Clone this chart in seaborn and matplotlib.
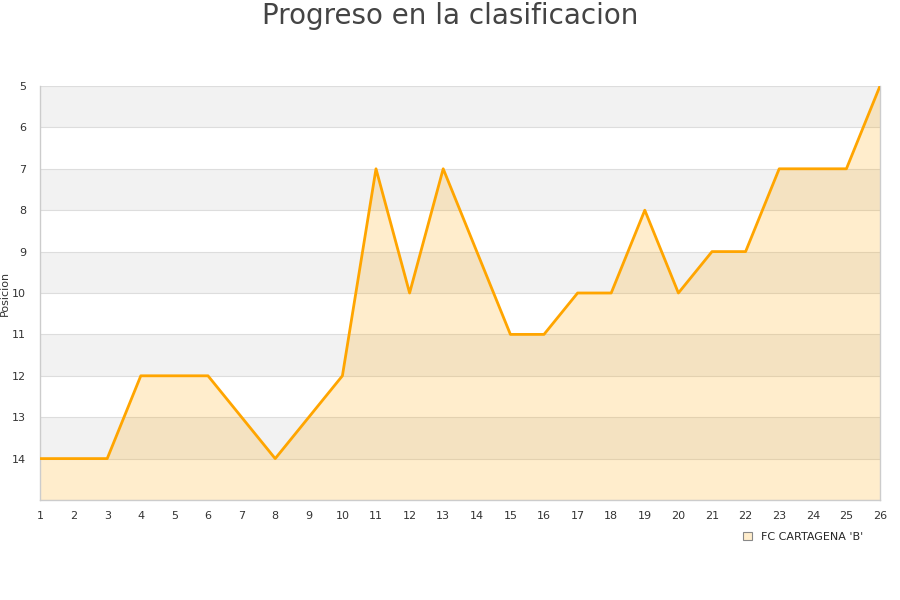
import numpy as np
import pandas as pd
import seaborn as sns
import matplotlib.pyplot as plt
from matplotlib.patches import Patch

jornadas = list(range(1, 27))
posiciones = [14, 14, 14, 12, 12, 12, 13, 14, 13, 12, 7, 10, 7, 9, 11, 11, 10, 10, 8, 10, 9, 9, 7, 7, 7, 5]
equipo = "FC CARTAGENA 'B'"

df = pd.DataFrame({"Jornada": jornadas, "Posicion": posiciones})

sns.set_style("white")
plt.rcParams['font.family'] = ['DejaVu Sans']

fig = plt.figure(figsize=(9, 6), dpi=100)
ax = fig.add_axes([40 / 900, 100 / 600, 840 / 900, 414 / 600])

# bandas alternas
for y in range(5, 15):
    if (y - 5) % 2 == 0:
        ax.axhspan(y, y + 1, color='#f2f2f2', zorder=0, lw=0)
for y in range(5, 16):
    ax.axhline(y, color='#dddddd', lw=0.8, zorder=1)

ax.fill_between(df["Jornada"], df["Posicion"], 15, color='#ffa500', alpha=0.2, lw=0, zorder=2)
sns.lineplot(data=df, x="Jornada", y="Posicion", color='#ffa500', linewidth=2, ax=ax, zorder=3)

ax.set_xlim(1, 26)
ax.set_ylim(15, 5)
ax.set_xticks(jornadas)
ax.set_yticks(range(5, 15))
ax.tick_params(axis='both', length=0, labelsize=8, labelcolor='#333333')
ax.tick_params(axis='x', pad=8)
ax.tick_params(axis='y', pad=10)
ax.set_xlabel("")
ax.set_ylabel("Posicion", fontsize=8, color='#333333')
ax.yaxis.set_label_coords(-30 / 840, 0.5)

for side in ['left', 'bottom', 'right']:
    ax.spines[side].set_color('#cccccc')
    ax.spines[side].set_linewidth(1)
ax.spines['top'].set_visible(False)

fig.suptitle("Progreso en la clasificacion", fontsize=20, color='#444444', y=0.997)

handle = Patch(facecolor='#ffedcc', edgecolor='#888888', linewidth=0.8)
fig.legend([handle], [equipo], loc='center', bbox_to_anchor=(0.892, 0.105),
           frameon=False, fontsize=8, handlelength=0.8, handleheight=0.8, handletextpad=0.8)

plt.savefig('out.png', dpi=100)
